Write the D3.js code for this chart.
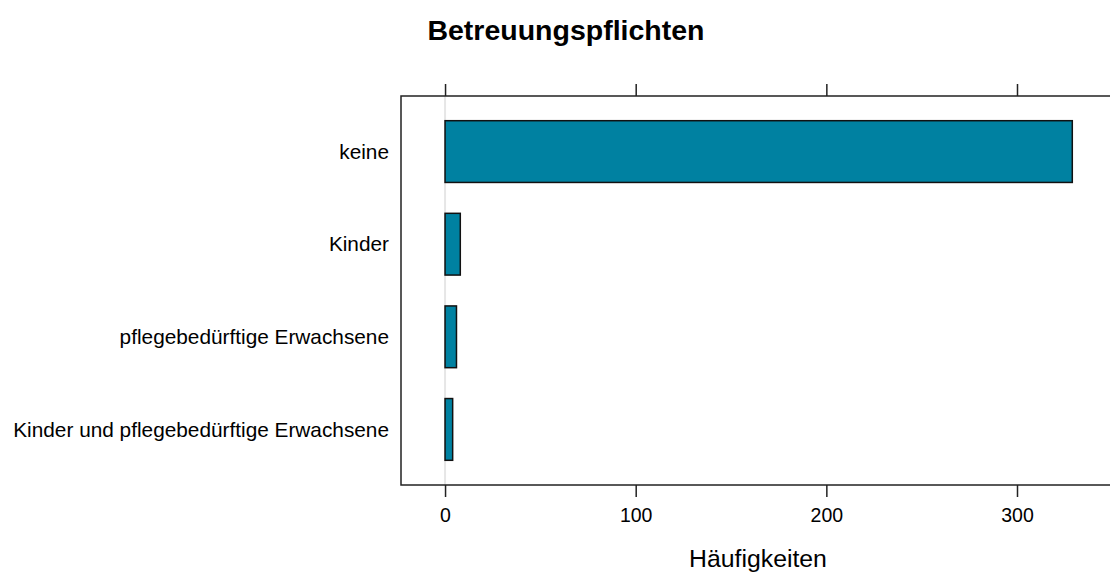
<!DOCTYPE html>
<html>
<head>
<meta charset="utf-8">
<script src="https://cdn.jsdelivr.net/npm/d3@7"></script>
<style>
  body { margin: 0; background: #fff; }
  text { font-family: "Liberation Sans", Arial, sans-serif; }
</style>
</head>
<body>
<div id="chart"></div>
<script>
var categories = ["keine", "Kinder", "pflegebedürftige Erwachsene", "Kinder und pflegebedürftige Erwachsene"];
var counts = [329, 8, 6, 4];
var tickValues = [0, 100, 200, 300];

var width = 1110, height = 574;
var panel = {left: 401, top: 96, right: 1115, bottom: 485};

var svg = d3.select("#chart")
    .append("svg")
    .attr("width", width)
    .attr("height", height);

var x = d3.scaleLinear()
    .domain([-23.1, 351.4])
    .range([panel.left, panel.right]);

var y = d3.scalePoint()
    .domain(categories)
    .range([panel.top, panel.bottom])
    .padding(0.6);

var barH = y.step() * 2 / 3;

// title
svg.append("text")
    .attr("x", 566)
    .attr("y", 40)
    .attr("text-anchor", "middle")
    .style("font-size", "28.5px")
    .style("font-weight", "bold")
    .text("Betreuungspflichten");

// reference line at origin
svg.append("line")
    .attr("x1", x(0)).attr("x2", x(0))
    .attr("y1", panel.top).attr("y2", panel.bottom)
    .style("stroke", "#e6e6e6")
    .style("stroke-width", 2);

// bars
svg.append("g")
    .selectAll("rect")
    .data(counts)
    .enter().append("rect")
    .attr("x", x(0))
    .attr("y", function (d, i) { return y(categories[i]) - barH / 2; })
    .attr("width", function (d) { return x(d) - x(0); })
    .attr("height", barH)
    .attr("fill", "#0081a1")
    .style("stroke", "#111")
    .style("stroke-width", 1.5);

// panel border
svg.append("rect")
    .attr("x", panel.left)
    .attr("y", panel.top)
    .attr("width", panel.right - panel.left)
    .attr("height", panel.bottom - panel.top)
    .attr("fill", "none")
    .style("stroke", "#222")
    .style("stroke-width", 1.5);

// bottom axis
var bottomAxis = svg.append("g")
    .attr("transform", "translate(0," + panel.bottom + ")")
    .call(d3.axisBottom(x).tickValues(tickValues).tickSize(12).tickPadding(11).tickSizeOuter(0));
bottomAxis.select(".domain").remove();
bottomAxis.selectAll("line").style("stroke", "#222").style("stroke-width", 1.5);
bottomAxis.selectAll("text").style("font-size", "19.5px").style("fill", "#000")
    .style("font-family", "'Liberation Sans', Arial, sans-serif");

// top axis (ticks only)
var topAxis = svg.append("g")
    .attr("transform", "translate(0," + panel.top + ")")
    .call(d3.axisTop(x).tickValues(tickValues).tickSize(12).tickFormat(""));
topAxis.select(".domain").remove();
topAxis.selectAll("line").style("stroke", "#222").style("stroke-width", 1.5);

// category labels
svg.append("g")
    .selectAll("text")
    .data(categories)
    .enter().append("text")
    .attr("x", panel.left - 12)
    .attr("y", function (d) { return y(d); })
    .attr("dy", "0.35em")
    .attr("text-anchor", "end")
    .style("font-size", "20.8px")
    .text(function (d) { return d; });

// x label
svg.append("text")
    .attr("x", 758)
    .attr("y", 567)
    .attr("text-anchor", "middle")
    .style("font-size", "24.8px")
    .text("Häufigkeiten");
</script>
</body>
</html>
